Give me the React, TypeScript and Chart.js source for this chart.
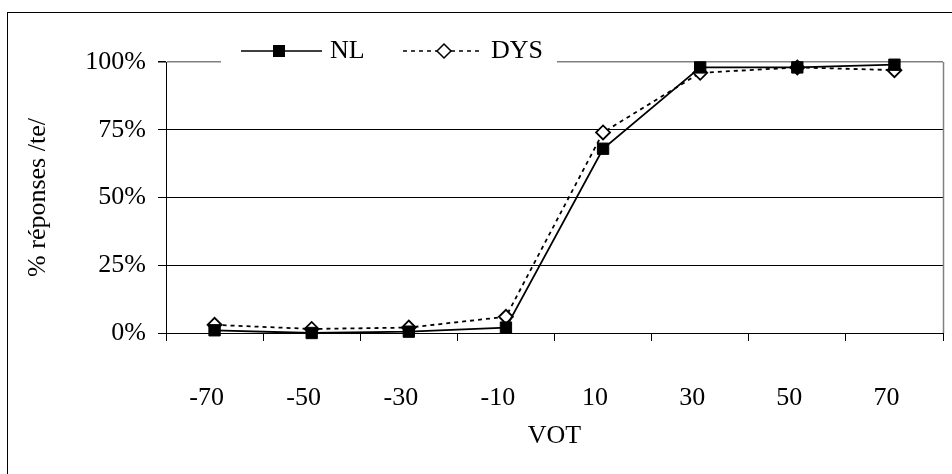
import React, { useEffect, useRef } from "react";
import { Chart, registerables } from "chart.js";

Chart.register(...registerables);

const categories = ["-70", "-50", "-30", "-10", "10", "30", "50", "70"];
const nlValues = [1, 0, 0.5, 2, 68, 98, 98, 99];
const dysValues = [3, 1.5, 2, 6, 74, 96, 98, 97];
const yTickValues = [0, 25, 50, 75, 100];
const seriesNames = ["NL", "DYS"];
const yTitle = "% réponses /te/";
const xTitle = "VOT";

const FONT = '"Liberation Serif", "Times New Roman", serif';
const FS = 26;

const framePlugin = {
  id: "frameAndLegend",
  beforeDatasetsDraw(chart: any) {
    const { ctx, chartArea } = chart;
    ctx.save();
    ctx.strokeStyle = "#808080";
    ctx.lineWidth = 1.5;
    ctx.beginPath();
    ctx.moveTo(chartArea.right + 0.5, chartArea.top);
    ctx.lineTo(chartArea.right + 0.5, chartArea.bottom);
    ctx.stroke();
    ctx.restore();
  },
  afterDraw(chart: any) {
    const { ctx } = chart;
    ctx.save();
    // outer frame
    ctx.strokeStyle = "#000";
    ctx.lineWidth = 1;
    ctx.strokeRect(7.5, 12.5, 2000, 2000);
    // legend box
    ctx.fillStyle = "#fff";
    ctx.fillRect(221, 36, 336, 30);
    const ly = 51;
    // NL
    ctx.strokeStyle = "#000";
    ctx.lineWidth = 1.5;
    ctx.setLineDash([]);
    ctx.beginPath();
    ctx.moveTo(241, ly);
    ctx.lineTo(322, ly);
    ctx.stroke();
    ctx.fillStyle = "#000";
    ctx.fillRect(273, ly - 6, 12, 12);
    // DYS
    ctx.setLineDash([4, 4]);
    ctx.beginPath();
    ctx.moveTo(403, ly);
    ctx.lineTo(482, ly);
    ctx.stroke();
    ctx.setLineDash([]);
    ctx.fillStyle = "#fff";
    ctx.beginPath();
    ctx.moveTo(444, ly - 7);
    ctx.lineTo(451, ly);
    ctx.lineTo(444, ly + 7);
    ctx.lineTo(437, ly);
    ctx.closePath();
    ctx.fill();
    ctx.stroke();
    ctx.fillStyle = "#000";
    ctx.font = `${FS}px ${FONT}`;
    ctx.textBaseline = "middle";
    ctx.textAlign = "left";
    ctx.fillText(seriesNames[0], 330, ly);
    ctx.fillText(seriesNames[1], 491, ly);
    ctx.restore();
  },
};

export default function App() {
  const ref = useRef<HTMLCanvasElement | null>(null);
  useEffect(() => {
    if (!ref.current) return;
    const chart = new Chart(ref.current, {
      type: "line",
      data: {
        labels: categories,
        datasets: [
          {
            label: seriesNames[0],
            data: nlValues,
            borderColor: "#000",
            backgroundColor: "#000",
            borderWidth: 1.8,
            pointStyle: "rect",
            pointRadius: 8,
            pointBackgroundColor: "#000",
            pointBorderColor: "#000",
            pointBorderWidth: 1,
            tension: 0,
            clip: 12,
          } as any,
          {
            label: seriesNames[1],
            data: dysValues,
            borderColor: "#000",
            backgroundColor: "#fff",
            borderWidth: 1.8,
            borderDash: [4, 4],
            pointStyle: "rectRot",
            pointRadius: 7,
            pointBackgroundColor: "#fff",
            pointBorderColor: "#000",
            pointBorderWidth: 1.8,
            tension: 0,
            clip: 12,
          } as any,
        ],
      },
      options: {
        responsive: false,
        animation: false,
        devicePixelRatio: 1,
        layout: { padding: { top: 62, right: 7, left: 0, bottom: 0 } },
        plugins: { legend: { display: false }, tooltip: { enabled: false }, title: { display: false } },
        scales: {
          x: {
            type: "category",
            offset: true,
            grid: {
              offset: true,
              drawOnChartArea: false,
              drawTicks: true,
              tickLength: 8,
              color: "#000",
              lineWidth: 1,
            },
            border: { color: "#000", width: 1 },
            ticks: {
              color: "#000",
              font: { family: FONT, size: FS },
              padding: 42,
              labelOffset: -8,
              maxRotation: 0,
              autoSkip: false,
            },
            title: {
              display: true,
              text: xTitle,
              color: "#000",
              font: { family: FONT, size: FS },
              padding: { top: 0, bottom: 22 },
            },
            afterFit: (s: any) => {
              s.height = 141;
            },
          },
          y: {
            min: 0,
            max: 100,
            afterBuildTicks: (s: any) => {
              s.ticks = yTickValues.map((v) => ({ value: v }));
            },
            ticks: {
              color: "#000",
              font: { family: FONT, size: FS },
              padding: 12,
              callback: (v: any) => `${v}%`,
            },
            grid: {
              color: (c: any) => (c.tick && c.tick.value === 100 ? "#808080" : "#000"),
              lineWidth: (c: any) => (c.tick && c.tick.value === 100 ? 1.5 : 1),
              tickColor: "#000",
              tickLength: 8,
            },
            border: { color: "#000", width: 1 },
            title: {
              display: true,
              text: yTitle,
              color: "#000",
              font: { family: FONT, size: FS },
              padding: { top: 23, bottom: 0 },
            },
            afterFit: (s: any) => {
              s.width = 166;
            },
          },
        },
      },
      plugins: [framePlugin],
    });
    return () => chart.destroy();
  }, []);
  return (
    <div style={{ position: "fixed", left: 0, top: 0, width: 952, height: 474, background: "#fff" }}>
      <canvas ref={ref} width={952} height={474} style={{ display: "block" }} />
    </div>
  );
}
